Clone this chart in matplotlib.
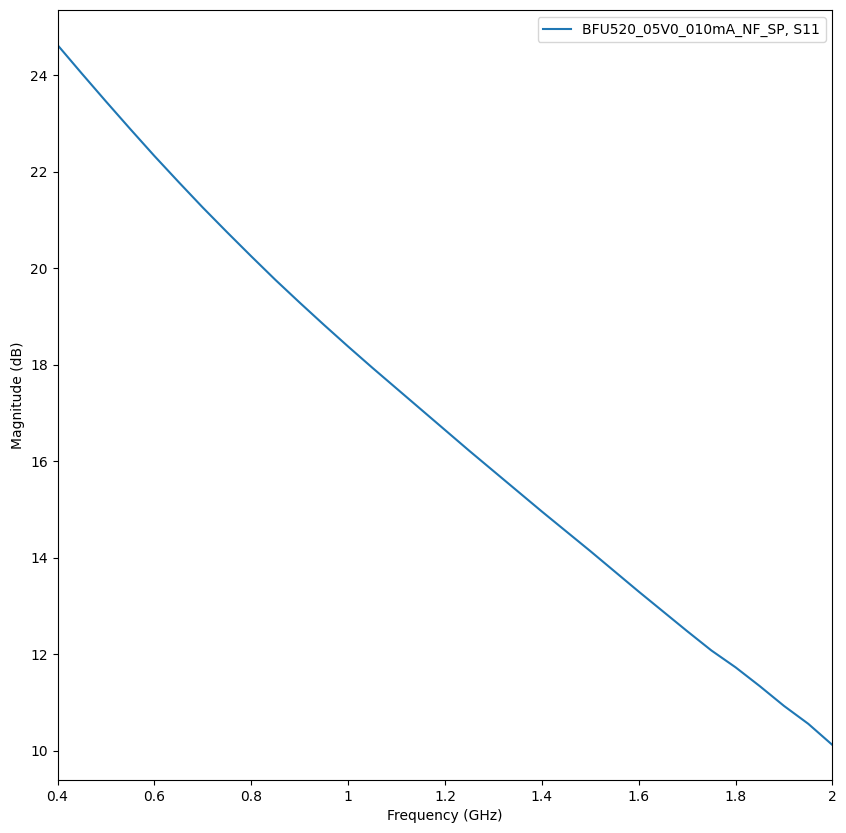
import matplotlib
matplotlib.use("Agg")
import matplotlib.pyplot as plt
from matplotlib.ticker import FuncFormatter

# S11 magnitude
freq_ghz = [0.40, 0.45, 0.50, 0.55, 0.60, 0.65, 0.70, 0.75, 0.80, 0.85,
            0.90, 0.95, 1.00, 1.05, 1.10, 1.15, 1.20, 1.25, 1.30, 1.35,
            1.40, 1.45, 1.50, 1.55, 1.60, 1.65, 1.70, 1.75, 1.80, 1.85,
            1.90, 1.95, 2.00]
mag_db = [24.63, 24.04, 23.46, 22.89, 22.33, 21.79, 21.26, 20.75, 20.25, 19.76,
          19.29, 18.83, 18.38, 17.94, 17.51, 17.08, 16.65, 16.22, 15.80, 15.38,
          14.96, 14.55, 14.14, 13.72, 13.30, 12.89, 12.48, 12.08, 11.73, 11.34,
          10.93, 10.56, 10.12]
label = "BFU520_05V0_010mA_NF_SP, S11"

fig = plt.figure(figsize=(8.46, 8.33), dpi=100)
ax = fig.add_subplot(111)
fig.subplots_adjust(left=0.068, right=0.984, top=0.988, bottom=0.0636)

ax.plot(freq_ghz, mag_db, label=label)
ax.set_xlim(0.4, 2)
ax.xaxis.set_major_formatter(FuncFormatter(lambda v, p: "%g" % round(v, 3)))
ax.set_xlabel("Frequency (GHz)")
ax.set_ylabel("Magnitude (dB)")
ax.legend(loc="upper right")

fig.savefig("out.png", dpi=100)
